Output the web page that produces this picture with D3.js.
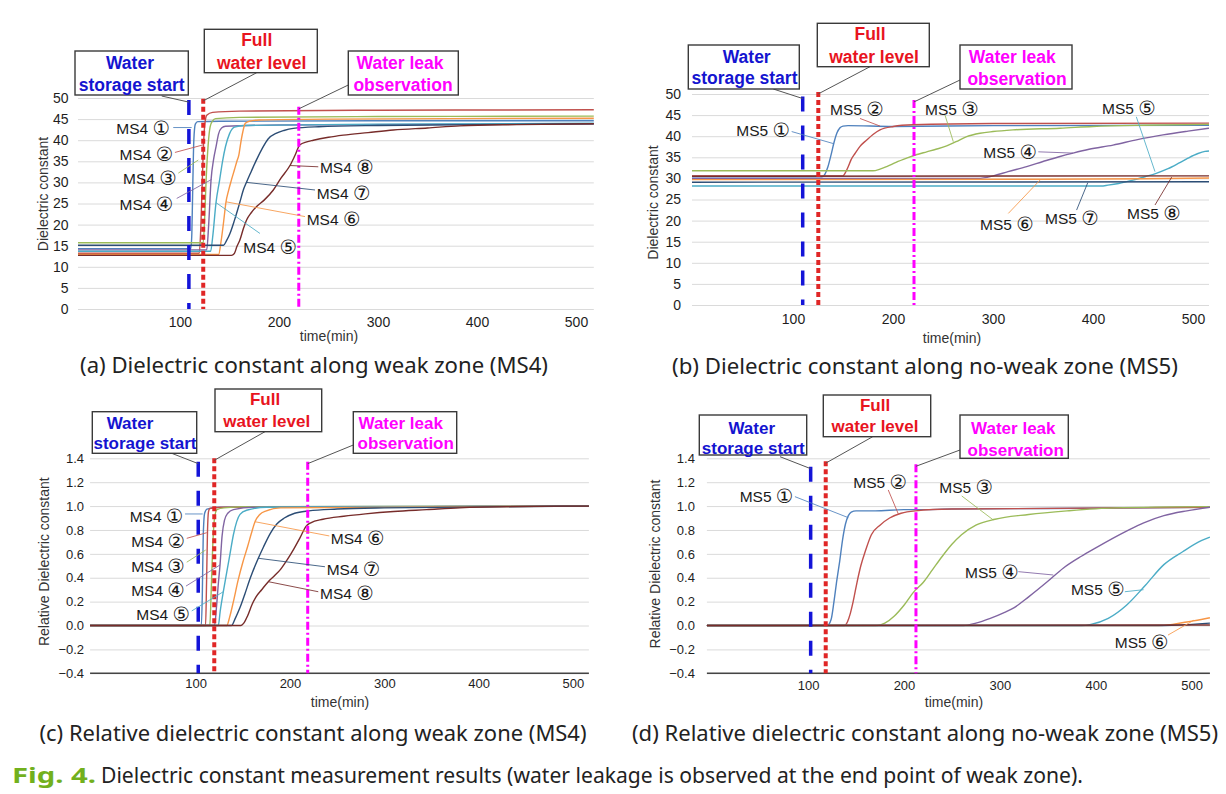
<!DOCTYPE html>
<html><head><meta charset="utf-8">
<script src="https://cdn.jsdelivr.net/npm/d3@7/dist/d3.min.js"></script>
<style>
body{margin:0;background:#fff;}
svg{display:block;}
</style></head><body>
<svg id="chart" width="1226" height="794"></svg>
<script>
// ---------------- DATA ----------------
const seriesColors = ["#4f81bd","#c0504d","#9bbb59","#8064a2","#4bacc6","#f79646","#2c4d75","#772c2a"];
const circled = ["①","②","③","④","⑤","⑥","⑦","⑧"];
const timeTicks = [100,200,300,400,500];
const dielTicks = [0,5,10,15,20,25,30,35,40,45,50];
const relTicks = [-0.4,-0.2,0,0.2,0.4,0.6,0.8,1.0,1.2,1.4];

// (a) MS4 dielectric constant  [time(min), value]
const ms4Diel = [
 [[-3,14.3],[111,14.3],[112,18],[113,30],[114,40],[115.5,43.8],[118,44.4],[140,44.5],[300,44.6],[518,44.6]],
 [[-3,13.2],[119.5,13.2],[121,19],[122.5,30],[123.8,39],[125,43.5],[127,45.9],[133,46.6],[160,46.9],[300,47.1],[518,47.2]],
 [[-3,15.7],[123.5,15.7],[125,22],[126.5,31],[128.5,39],[130.5,43.2],[133,44.6],[136,45.1],[160,45.4],[300,45.6],[518,45.7]],
 [[-3,14.0],[127,14.0],[129,20],[131.4,30.6],[134,35.5],[136.4,38.4],[139,41.5],[142,42.9],[146,43.3],[200,43.6],[518,43.9]],
 [[-3,13.7],[131,13.7],[133,17],[136.4,25.2],[140,30.5],[143,35],[146,38.5],[150,41.5],[155,43.1],[165,43.5],[300,43.8],[518,44.0]],
 [[-3,12.9],[139,12.9],[141.5,16],[144,20.5],[146.5,25.4],[149,28],[152,30.6],[155,33],[157.5,35],[159.5,36.5],[161,38.8],[163.5,42],[166,44],[170,44.5],[180,44.8],[250,45],[518,45.2]],
 [[-3,15.1],[144,15.1],[147,16.2],[150.5,17.9],[155,21],[160.6,25.4],[164,28.2],[167.3,30.1],[172,32.6],[177.4,35.4],[183,38],[189,40.3],[197,41.6],[205,42.3],[214.5,42.8],[240,43.2],[300,43.5],[518,43.9]],
 [[-3,12.7],[152,12.7],[155,13.2],[157.5,14.8],[160.6,16.4],[164,19],[167.3,21.1],[172,22.8],[177.4,24.3],[185,25.8],[194.3,28.2],[202,31],[211.1,34],[216,36.3],[221.2,38.9],[228,39.6],[234.7,40],[250,40.7],[265,41.2],[290,41.8],[315.5,42.4],[350,42.9],[382.8,43.4],[440,43.7],[518,43.9]]
];
// (b) MS5 dielectric constant
const ms5Diel = [
 [[-1,30.4],[129,30.4],[132,31],[135,32.8],[138,35.5],[141,38.5],[144,40.8],[147,42],[150,42.4],[155,42.5],[200,42.3],[300,42.5],[516,42.6]],
 [[-1,30.6],[150,30.6],[152,31.2],[155.3,32.8],[158,34.4],[162,35.9],[167,37.6],[173.7,39.1],[180,40.4],[187,41.5],[200.3,42.3],[220,42.7],[300,43],[516,43.1]],
 [[-1,31.8],[180,31.8],[187,32.2],[193.7,32.8],[203,33.8],[213.7,34.8],[223,35.6],[233.7,36.3],[243,36.9],[253.7,37.7],[263,38.7],[273.7,39.9],[287,40.7],[300,41.1],[320,41.5],[367,41.9],[400,42.3],[450,42.6],[516,42.8]],
 [[-1,30.0],[285,30.0],[300.3,30.6],[315,31.6],[333.7,32.8],[350,34],[367,35.2],[380,36],[396,36.9],[420,37.9],[444.5,39.2],[470,40.3],[495,41.2],[516,41.9]],
 [[-1,28.2],[408,28.2],[415,28.4],[425.7,28.8],[440,29.6],[452,30.4],[463.2,31.2],[475,32.3],[485.7,33.6],[495,34.8],[505,35.9],[512,36.4],[516,36.5]],
 [[-1,29.7],[350,29.8],[450,29.9],[516,30.1]],
 [[-1,29.1],[516,29.2]],
 [[-1,30.5],[516,30.6]]
];
// (c) MS4 relative dielectric constant
const ms4Rel = [
 [[-12,0],[106,0],[107,0.25],[108,0.75],[109.5,0.94],[112,0.975],[125,0.99],[200,0.995],[517,1.0]],
 [[-12,0],[110.5,0],[111.5,0.35],[112.5,0.78],[113.5,0.95],[115,0.98],[130,0.99],[517,1.0]],
 [[-12,0],[115,0],[116.5,0.3],[118,0.65],[120,0.9],[122.5,0.97],[130,0.985],[160,0.995],[517,1.0]],
 [[-12,0],[120,0],[122,0.15],[124,0.35],[125.8,0.507],[128,0.75],[130.5,0.88],[134,0.94],[140,0.97],[160,0.99],[517,1.0]],
 [[-12,0],[124,0],[126,0.12],[129.3,0.283],[133,0.45],[136.4,0.6],[140,0.76],[143.5,0.87],[147,0.93],[154,0.965],[175,0.99],[517,1.0]],
 [[-12,0],[133,0],[136,0.07],[140,0.2],[145,0.38],[150,0.53],[155,0.66],[159,0.77],[162.9,0.869],[168,0.93],[175,0.96],[190,0.985],[517,1.0]],
 [[-12,0],[138,0],[142,0.06],[147,0.15],[152,0.26],[158,0.4],[166.4,0.563],[172,0.66],[179,0.77],[186,0.85],[194,0.9],[205,0.94],[220,0.96],[250,0.975],[300,0.985],[517,1.0]],
 [[-12,0],[148,0],[151,0.02],[155,0.08],[160,0.18],[164,0.24],[170,0.3],[177,0.367],[184,0.42],[190,0.47],[197,0.55],[204,0.64],[211,0.74],[217,0.83],[222,0.86],[235,0.89],[257,0.915],[280,0.935],[310,0.955],[345,0.97],[380,0.985],[430,0.995],[517,1.0]]
];
// (d) MS5 relative dielectric constant
const ms5Rel = [
 [[-5.5,0],[120,0],[124,0.05],[127,0.2],[130,0.38],[133,0.54],[136,0.72],[139,0.85],[142,0.92],[145,0.95],[150,0.96],[170,0.96],[200,0.97],[212,0.97],[250,0.975],[350,0.98],[519,0.99]],
 [[-5.5,0],[138,0],[141,0.03],[144,0.1],[147,0.2],[151,0.36],[155,0.5],[160,0.63],[166,0.76],[175,0.84],[185,0.9],[197,0.94],[212,0.96],[250,0.975],[519,0.99]],
 [[-5.5,0],[172,0],[180,0.02],[190,0.08],[200,0.17],[210,0.28],[220,0.36],[230,0.47],[240,0.58],[250,0.68],[260,0.76],[275,0.84],[295,0.89],[330,0.93],[370,0.96],[420,0.985],[519,0.995]],
 [[-5.5,0],[262,0],[275,0.02],[290,0.06],[305,0.11],[315,0.15],[330,0.24],[350,0.37],[366,0.48],[385,0.58],[400,0.65],[432,0.79],[450,0.86],[471,0.92],[495,0.96],[519,0.99]],
 [[-5.5,0],[385,0],[395,0.01],[413,0.06],[432,0.17],[452,0.34],[471,0.51],[491,0.62],[510,0.71],[519,0.74]],
 [[-5.5,0],[465,0],[480,0.01],[495,0.03],[510,0.05],[519,0.065]],
 [[-5.5,0],[470,0],[519,0.02]],
 [[-5.5,0],[519,0.005]]
];

// event times (min): water storage start, full water level, water leak observation
const eventTimesA = [109,123.5,220];
const eventTimesB = [109.7,125.3,221];
const eventTimesC = [102.7,119.7,218.8];
const eventTimesD = [102.7,118.4,212.5];
const eventTopsA = [49.5,49.8,47.9];
const eventTopsB = [49.4,50.5,48.6];
const eventTopsC = [1.372,1.40,1.372];
const eventTopsD = [1.33,1.376,1.35];

const eventTitles = [["Water","storage start"],["Full","water level"],["Water leak","observation"]];
const subCaptions = [
 "(a) Dielectric constant along weak zone (MS4)",
 "(b) Dielectric constant along no-weak zone (MS5)",
 "(c) Relative dielectric constant along weak zone (MS4)",
 "(d) Relative dielectric constant along no-weak zone (MS5)"
];

// sensor label annotations: [series index, label t, label v, anchor, leader from [t,v], leader to [t,v]]
const labelsA = [
 [0,89.9,42.8,"end",[93.2,43.0],[111.8,43.0]],
 [1,93.2,36.73,"end",[94.9,37.1],[123.5,38.9]],
 [2,96.7,31.11,"end",[98.3,32.2],[118.5,35.3]],
 [3,93.2,25.0,"end",[96.7,26.2],[132,30.7]],
 [4,163.9,14.8,"start",[180.8,17.9],[136.4,25.2]],
 [5,228,21.3,"start",[226.3,21.9],[146.5,25.4]],
 [6,238.1,27.6,"start",[236.4,28.2],[167.4,30.0]],
 [7,241.4,33.6,"start",[239.7,33.7],[211.1,34.0]]
];
const labelsB = [
 [0,97,41.5,"end",[98.7,41.1],[141,38.2]],
 [1,137,46.4,"start",[167,44.2],[187,42.4]],
 [2,232,46.4,"start",[252,45.0],[260.3,38.7]],
 [3,290.3,36.3,"start",[345.3,36.3],[380,36.0]],
 [4,409,46.6,"start",[443.3,44.6],[462,31.6]],
 [5,287,19.2,"start",[315.3,21.7],[347,29.6]],
 [6,352,20.5,"start",[383.6,22.5],[394.8,29.0]],
 [7,434,21.9,"start",[462,23.7],[478.7,30.3]]
];
const labelsC = [
 [0,86.9,0.917,"end",[88.7,0.934],[107.4,0.934]],
 [1,88.7,0.708,"end",[90.5,0.73],[111.7,0.777]],
 [2,88.5,0.5025,"end",[90.5,0.53],[110.6,0.632]],
 [3,88.5,0.3015,"end",[89.7,0.33],[125.8,0.507]],
 [4,94,0.099,"end",[95.8,0.122],[129.3,0.283]],
 [5,243.2,0.730,"start",[241.7,0.75],[162.9,0.869]],
 [6,238.9,0.471,"start",[237.1,0.492],[166.4,0.563]],
 [7,231.8,0.27,"start",[230,0.283],[177,0.367]]
];
const labelsD = [
 [0,84.6,1.085,"end",[86.3,1.079],[141.9,0.903]],
 [1,147.1,1.204,"start",[183.6,1.135],[194.1,0.934]],
 [2,236.8,1.162,"start",[260.2,1.085],[293.1,0.884]],
 [3,263.6,0.451,"start",[319.2,0.451],[355.7,0.423]],
 [4,374.1,0.306,"start",[430.3,0.283],[449.8,0.30]],
 [5,419.8,-0.136,"start",[475.3,-0.08],[502.4,0.045]]
];

// ---------------- LAYOUT / STYLE ----------------
const eventColors = ["#1414d8","#e02626","#ff00ff"];
const eventTextColors = ["#1414d0","#e8141e","#ff00ff"];
const eventDash = ["15,14","5,3","8,3,2,3"];
const eventWidth = [3.5,4,3];
const fmtRel = d => (d<0?"\u2212":"") + Math.abs(d).toFixed(1);

const panels = [
 {data:ms4Diel,prefix:"MS4",xDom:[-3,518],xRange:[78,593.8],yDom:[0,50],yRange:[309,98],yTicks:dielTicks,fmt:d=>d,
  tickFont:14,yPad:9.5,xPad:7.7,yTitle:"Dielectric constant",yTitlePos:[43,194],xTitlePos:[329,336],
  ev:eventTimesA,evTop:eventTopsA,labels:labelsA,dark:false,boxFont:17.5,
  boxes:[{r:[75,51,188.3,95],t:[[130,63.3],[131.7,85]],from:[161.7,96]},
         {r:[204.3,29.3,317.3,72.7],t:[[256.7,40],[261.7,62.7]],from:[256.7,72.7]},
         {r:[348.3,51,458.3,95],t:[[400,63.3],[403,85]],from:[348.3,85]}],
  cap:[314,365,468]},
 {data:ms5Diel,prefix:"MS5",xDom:[-1,516],xRange:[692,1209],yDom:[0,50],yRange:[305,94],yTicks:dielTicks,fmt:d=>d,
  tickFont:14,yPad:11,xPad:9,yTitle:"Dielectric constant",yTitlePos:[653,202.5],xTitlePos:[952,338],
  ev:eventTimesB,evTop:eventTopsB,labels:labelsB,dark:false,boxFont:17.5,
  boxes:[{r:[688.3,45,799.3,89],t:[[746.7,56.7],[744.5,78.3]],from:[773.3,89]},
         {r:[817.3,23.3,929.3,66.7],t:[[870,34],[874,56.7]],from:[870,66.7]},
         {r:[960,45,1072,89],t:[[1012.3,57.3],[1017,79.3]],from:[960,80]}],
  cap:[925,366,506]},
 {data:ms4Rel,prefix:"MS4",xDom:[-12,517],xRange:[90.08,588.9],yDom:[-0.4,1.4],yRange:[673.3,458.3],yTicks:relTicks,fmt:fmtRel,
  tickFont:13,yPad:6,xPad:5.3,yTitle:"Relative Dielectric constant",yTitlePos:[43.8,561.7],xTitlePos:[340,701.7],
  ev:eventTimesC,evTop:eventTopsC,labels:labelsC,dark:true,boxFont:17,
  boxes:[{r:[92.3,411.7,196.7,453.3],t:[[130,423.3],[145,443.3]],from:[171.7,453.3]},
         {r:[215,389,321.7,431.7],t:[[265,399.5],[266.7,421.7]],from:[265,431.7]},
         {r:[353.3,411.7,456.7,453.3],t:[[400.7,423.3],[405.7,443.3]],from:[353.3,445]}],
  cap:[313,733,547]},
 {data:ms5Rel,prefix:"MS5",xDom:[-5.5,519],xRange:[706.9,1209.9],yDom:[-0.4,1.4],yRange:[673.3,458.3],yTicks:relTicks,fmt:fmtRel,
  tickFont:13,yPad:12,xPad:7,yTitle:"Relative Dielectric constant",yTitlePos:[655,564],xTitlePos:[954,701.7],
  ev:eventTimesD,evTop:eventTopsD,labels:labelsD,dark:true,boxFont:17,
  boxes:[{r:[699.3,415,806.7,455],t:[[751.7,428.3],[753.3,448.3]],from:[780,456.7]},
         {r:[823.3,395,930.7,436.7],t:[[875,405],[875,426.7]],from:[872.7,436.7]},
         {r:[960,415,1068.3,458.3],t:[[1013.3,428.3],[1015.7,450]],from:[960,450]}],
  cap:[925,733,586]}
];

const svg = d3.select("#chart");
const FONT = '"Liberation Sans", Arial, "DejaVu Sans", sans-serif';
const CIRC = '"DejaVu Sans", "Noto Sans CJK KR", sans-serif';

function drawPanel(p, pi){
  const g = svg.append("g");
  const x = d3.scaleLinear().domain(p.xDom).range(p.xRange);
  const y = d3.scaleLinear().domain(p.yDom).range(p.yRange);
  const w = p.xRange[1]-p.xRange[0];

  // grid + y tick labels
  const gy = g.append("g").attr("transform",`translate(${p.xRange[0]},0)`)
    .call(d3.axisLeft(y).tickValues(p.yTicks).tickSize(-w).tickPadding(p.yPad).tickFormat(p.fmt));
  gy.select(".domain").remove();
  gy.attr("font-family",FONT).attr("font-size",p.tickFont);
  gy.selectAll(".tick line").attr("stroke","#dadada").attr("stroke-width",1);
  gy.selectAll(".tick text").attr("fill","#1e1e1e");

  if(p.dark){
    g.append("line").attr("x1",p.xRange[0]).attr("x2",p.xRange[1])
      .attr("y1",y(p.yDom[0])).attr("y2",y(p.yDom[0])).attr("stroke","#444").attr("stroke-width",1.5);
  }

  // x tick labels
  const gx = g.append("g").attr("transform",`translate(0,${y(p.yDom[0])})`)
    .call(d3.axisBottom(x).tickValues(timeTicks).tickSize(0).tickPadding(p.xPad));
  gx.select(".domain").remove();
  gx.attr("font-family",FONT).attr("font-size",p.tickFont);
  gx.selectAll(".tick text").attr("fill","#1e1e1e");

  // axis titles
  g.append("text").attr("transform",`translate(${p.yTitlePos[0]},${p.yTitlePos[1]}) rotate(-90)`)
    .attr("text-anchor","middle").attr("dominant-baseline","central")
    .attr("font-family",FONT).attr("font-size",14).attr("fill","#333").text(p.yTitle);
  g.append("text").attr("x",p.xTitlePos[0]).attr("y",p.xTitlePos[1])
    .attr("text-anchor","middle").attr("dominant-baseline","central")
    .attr("font-family",FONT).attr("font-size",14).attr("fill","#333").text("time(min)");

  // series lines
  const line = d3.line().x(d=>x(d[0])).y(d=>y(d[1])).curve(d3.curveMonotoneX);
  g.append("g").selectAll("path").data(p.data).join("path")
    .attr("d",line).attr("fill","none")
    .attr("stroke",(d,i)=>seriesColors[i]).attr("stroke-width",1.4);

  // event vertical lines
  p.ev.forEach((t,i)=>{
    g.append("line").attr("x1",x(t)).attr("x2",x(t))
      .attr("y1",y(p.evTop[i])).attr("y2",y(p.yDom[0]))
      .attr("stroke",eventColors[i]).attr("stroke-width",eventWidth[i])
      .attr("stroke-dasharray",eventDash[i]);
  });

  // event annotation boxes
  p.boxes.forEach((b,i)=>{
    g.append("line").attr("x1",b.from[0]).attr("y1",b.from[1])
      .attr("x2",x(p.ev[i])).attr("y2",y(p.evTop[i])+2)
      .attr("stroke","#555").attr("stroke-width",1);
    g.append("rect").attr("x",b.r[0]).attr("y",b.r[1]).attr("width",b.r[2]-b.r[0]).attr("height",b.r[3]-b.r[1])
      .attr("fill","#fff").attr("stroke","#3a3a3a").attr("stroke-width",1.4);
    eventTitles[i].forEach((s,k)=>{
      g.append("text").attr("x",b.t[k][0]).attr("y",b.t[k][1])
        .attr("text-anchor","middle").attr("dominant-baseline","central")
        .attr("font-family",FONT).attr("font-weight","bold").attr("font-size",p.boxFont)
        .attr("fill",eventTextColors[i]).text(s);
    });
  });

  // sensor labels
  p.labels.forEach(l=>{
    const [si,tx,ty,anchor,from,to] = l;
    g.append("line").attr("x1",x(from[0])).attr("y1",y(from[1])).attr("x2",x(to[0])).attr("y2",y(to[1]))
      .attr("stroke",seriesColors[si]).attr("stroke-opacity",0.85).attr("stroke-width",1);
    const t = g.append("text").attr("x",x(tx)).attr("y",y(ty))
      .attr("text-anchor",anchor).attr("dominant-baseline","central")
      .attr("font-family",FONT).attr("font-size",15.5).attr("fill","#1a1a1a");
    t.append("tspan").text(p.prefix+" ");
    t.append("tspan").attr("font-family",CIRC).attr("font-size",19.5).text(circled[si]);
  });

  // sub caption
  svg.append("text").attr("x",p.cap[0]).attr("y",p.cap[1])
    .attr("text-anchor","middle").attr("dominant-baseline","central")
    .attr("font-family",'"Noto Sans", "Open Sans", sans-serif').attr("font-size",21)
    .attr("textLength",p.cap[2]).attr("lengthAdjust","spacingAndGlyphs")
    .attr("fill","#222").text(subCaptions[pi]);
}

panels.forEach(drawPanel);

// figure caption
svg.append("text").attr("x",12).attr("y",775).attr("dominant-baseline","central")
  .attr("font-family",'"Noto Sans", "Open Sans", sans-serif').attr("font-size",21).attr("font-weight","bold")
  .attr("textLength",84).attr("lengthAdjust","spacingAndGlyphs")
  .attr("fill","#72b01d").text("Fig. 4.");
svg.append("text").attr("x",101).attr("y",775).attr("dominant-baseline","central")
  .attr("font-family",'"Noto Sans", "Open Sans", sans-serif').attr("font-size",21)
  .attr("textLength",982).attr("lengthAdjust","spacingAndGlyphs")
  .attr("fill","#222").text("Dielectric constant measurement results (water leakage is observed at the end point of weak zone).");
</script>
</body></html>
